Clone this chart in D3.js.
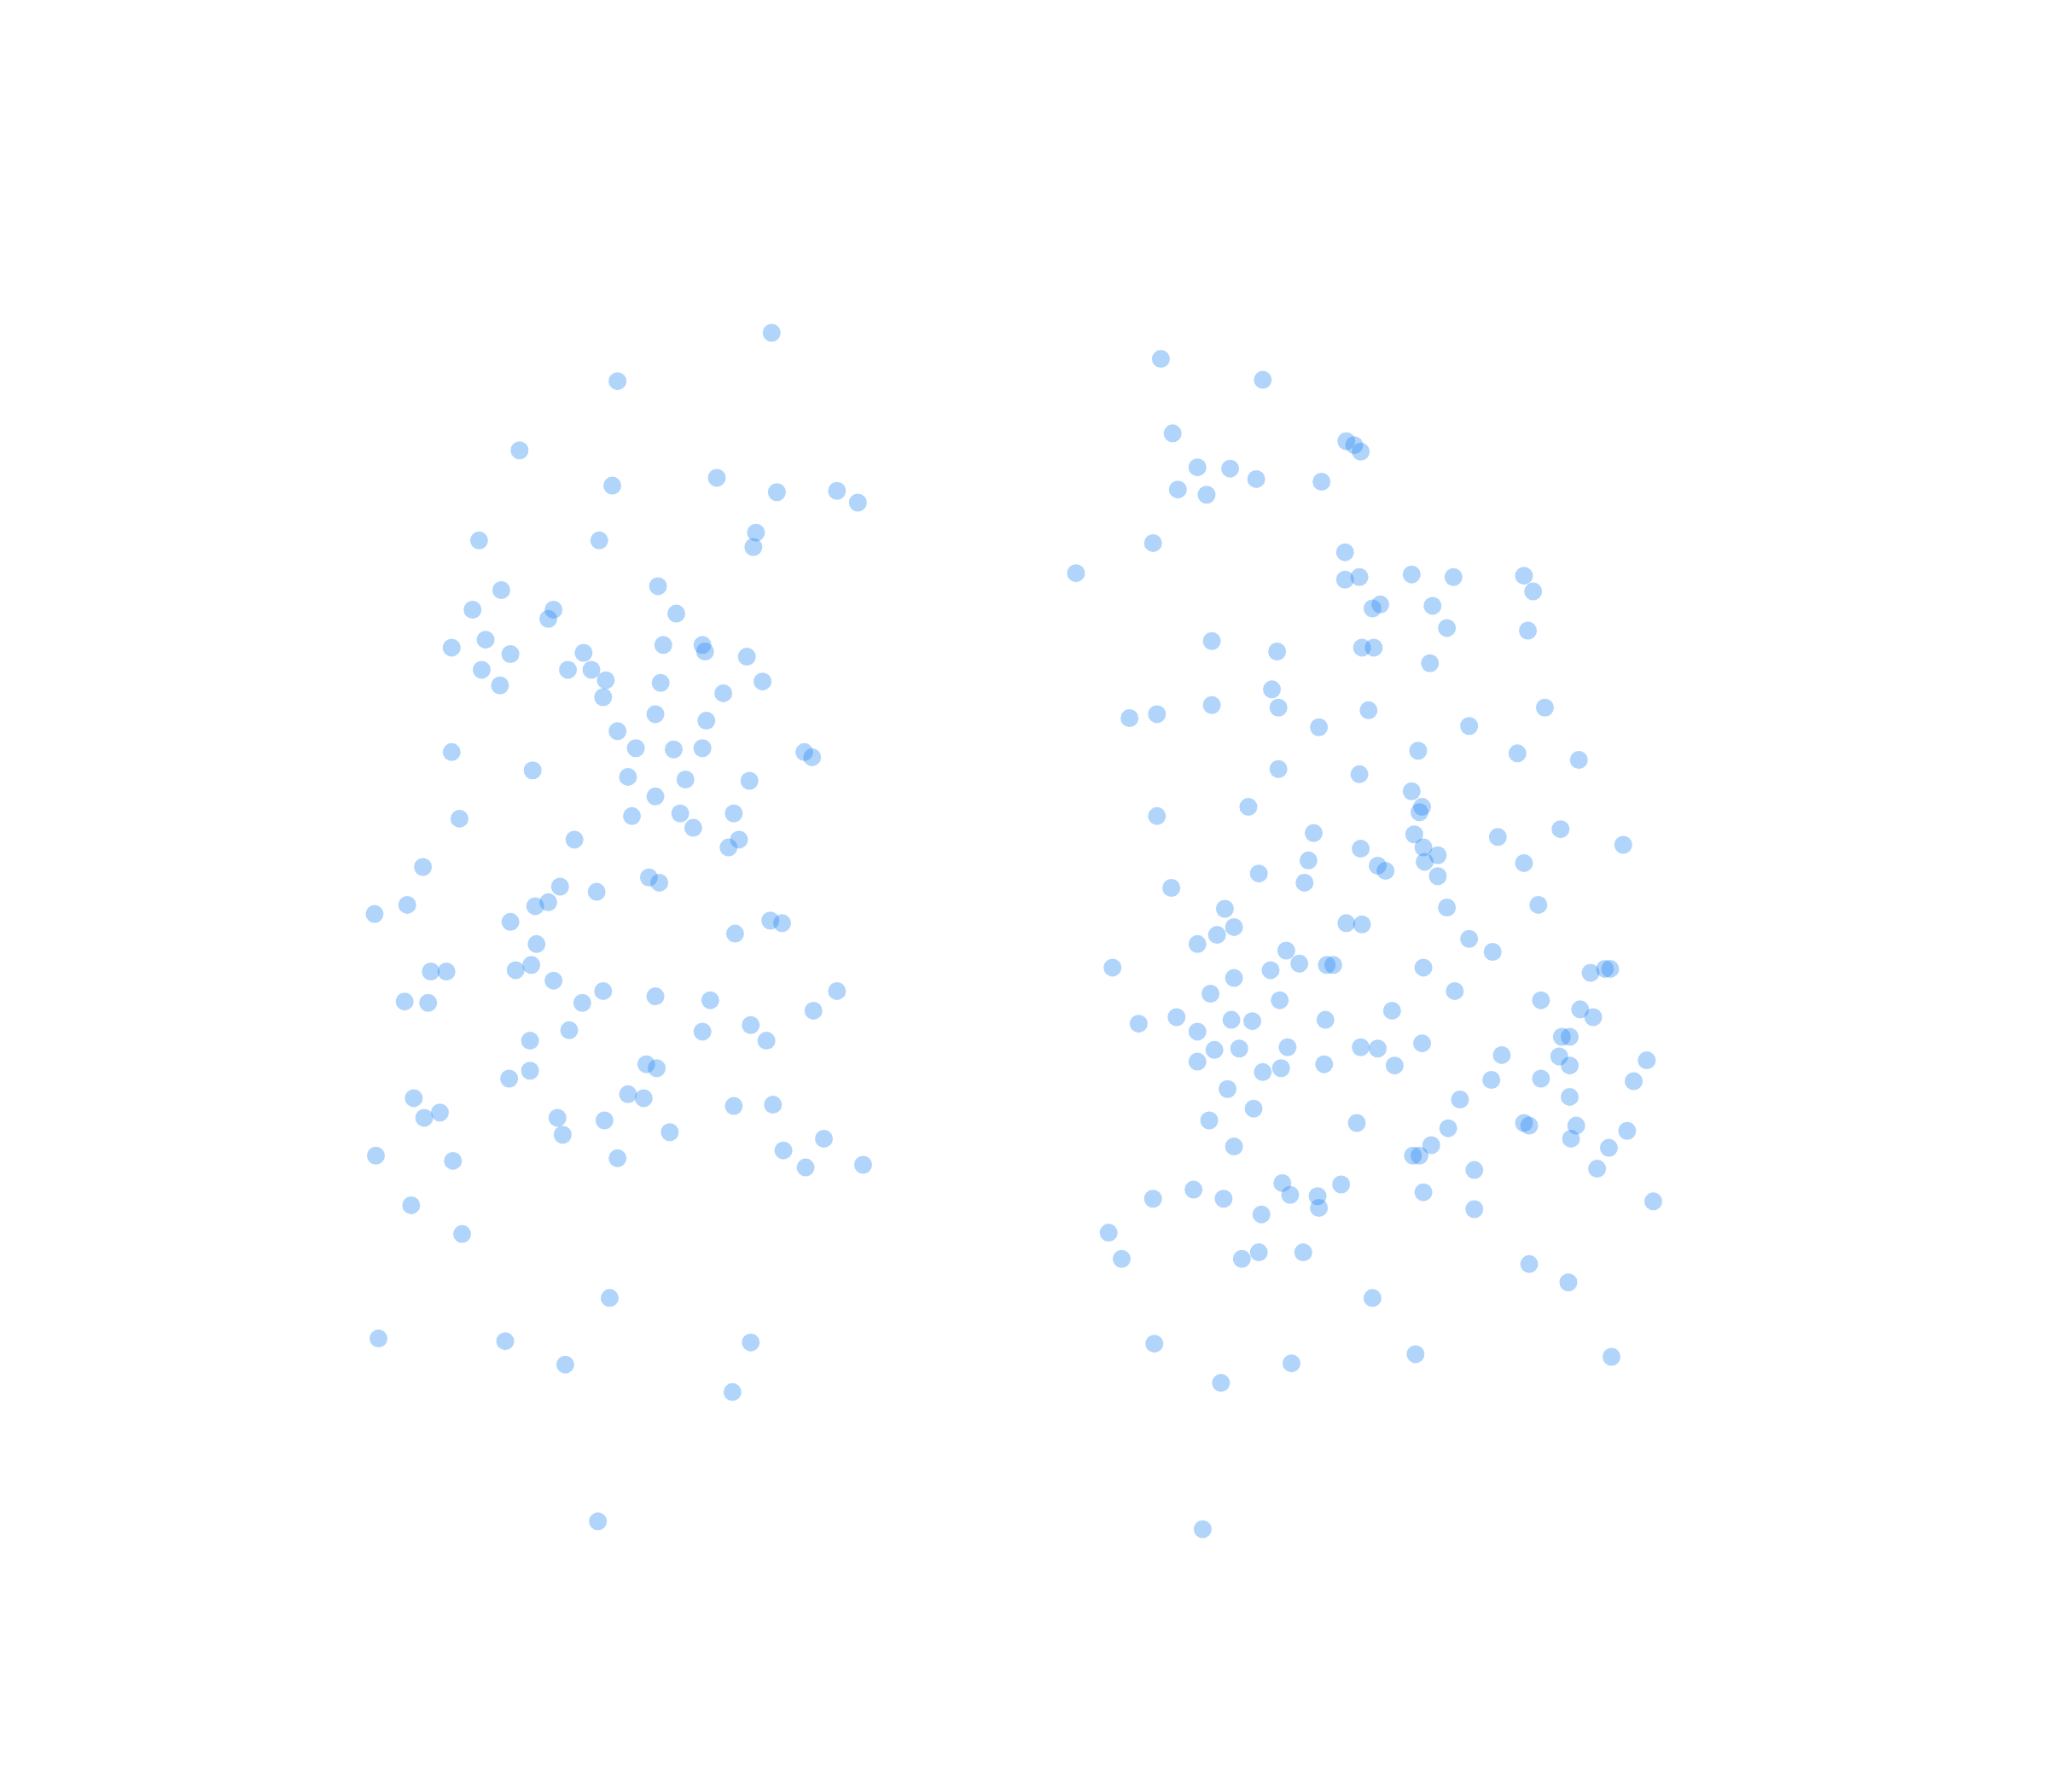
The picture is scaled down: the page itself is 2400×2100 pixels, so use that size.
<!DOCTYPE html>
<html>
<head>
<meta charset="utf-8">
<script src="https://cdn.jsdelivr.net/npm/d3@7"></script>
<style>
html,body{margin:0;padding:0;background:#fff;}
svg{display:block;}
</style>
</head>
<body>
<script>
const categories = ["A", "B"];

const groupA_x = [590,472,397,468,548,594,640,656,366,458,578,576,383,503,361,423,419,517,345,371,390,446,507,537,539,571,368,434,452,463,382,505,583,461,553,501,540,472,345,486,515,537,615,621,407,480,524,573,501,351,483,520,561,530,439,565,557,323,496,504,428,456,286,311,409,419,390,589,598,562,410,329,341,394,406,423,640,309,327,445,461,501,543,622,435,537,574,405,586,494,502,389,405,316,336,324,480,492,426,462,561,591,430,512,630,287,346,472,599,616,660,314,353,466,289,386,574,432,560,457];
const groupA_y = [254,291,344,371,365,376,375,384,413,413,407,418,451,448,466,466,473,469,495,489,500,499,493,493,498,502,512,512,512,520,524,522,521,533,530,546,551,559,575,572,573,572,575,579,589,594,596,597,609,626,624,622,622,633,642,642,648,663,671,675,678,682,699,692,693,690,705,704,706,714,722,743,743,742,738,750,758,766,767,767,758,762,765,773,788,789,784,796,796,814,817,825,819,840,851,855,837,840,855,857,846,845,868,866,871,884,888,886,880,893,891,922,944,993,1024,1026,1027,1044,1065,1164];

const groupB_x = [888,966,897,1030,1036,1041,916,941,961,901,923,1011,882,1029,823,1029,1040,1080,1112,1166,1173,1050,1056,1096,1107,1169,927,977,1042,1051,1094,973,927,978,1047,864,885,1009,1124,1182,1085,1161,1208,978,1040,1080,955,1088,1086,885,1005,1082,1146,1194,1242,1041,1089,1100,1001,1054,1060,1090,1100,1166,963,998,896,1107,1177,937,944,931,1030,1042,916,1124,1142,984,851,972,994,1015,1020,1089,944,1217,1228,1232,926,979,1113,1179,1065,1209,871,900,942,958,1014,1219,916,1195,1201,929,948,985,1041,1054,1088,1149,1193,1260,916,1013,1067,1201,966,980,1141,1179,1250,939,1117,1201,959,925,1038,1108,1166,1170,1206,1245,1095,1202,1231,944,1081,1086,1128,1222,981,987,1026,1008,913,936,882,1089,1265,1009,965,1128,848,858,950,963,997,1170,1200,1050,883,1083,1233,988,934,920];
const groupB_y = [274,290,331,337,340,345,357,358,366,374,378,368,415,422,438,443,441,439,441,440,452,465,462,463,480,482,490,498,495,495,507,527,539,541,543,549,546,556,555,541,574,576,581,588,592,605,617,617,621,624,637,638,640,634,646,649,648,654,658,662,666,659,670,660,668,675,679,694,692,695,709,715,706,707,722,718,728,727,740,742,737,738,738,740,748,744,741,741,760,765,758,765,773,772,783,778,780,781,780,778,789,793,793,803,802,801,801,802,798,807,808,811,812,814,815,815,820,817,826,825,827,833,841,839,848,857,859,863,859,861,861,865,876,871,878,877,884,884,895,894,905,914,906,915,910,917,917,912,919,924,929,925,943,963,963,958,958,967,981,993,1028,1036,1038,1043,1058,1170];

const W = 2400, H = 2100;
const svg = d3.select("body").append("svg").attr("width", W).attr("height", H);
svg.append("rect").attr("width", W).attr("height", H).attr("fill", "#fff");

const x = d3.scaleLinear().domain([-0.8, 1567.2]).range([0, W]);
const y = d3.scaleLinear().domain([-0.8, 1371.2]).range([0, H]);

const pts = [];
groupA_x.forEach((v, i) => pts.push({g: categories[0], x: v, y: groupA_y[i]}));
groupB_x.forEach((v, i) => pts.push({g: categories[1], x: v, y: groupB_y[i]}));

svg.append("g").selectAll("circle").data(pts).join("circle")
  .attr("cx", d => x(d.x))
  .attr("cy", d => y(d.y))
  .attr("r", 10.5)
  .attr("fill", "rgb(38,136,245)")
  .attr("fill-opacity", 0.36);
</script>
</body>
</html>
